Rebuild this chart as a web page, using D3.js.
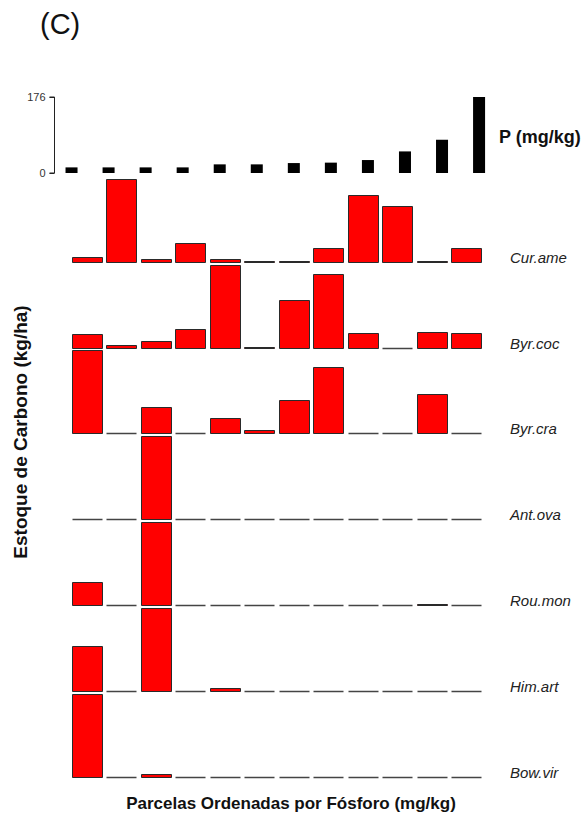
<!DOCTYPE html>
<html>
<head>
<meta charset="utf-8">
<script src="https://cdn.jsdelivr.net/npm/d3@7"></script>
<style>
  html, body { margin: 0; padding: 0; background: #fff; }
  svg { display: block; font-family: Arial, "Liberation Sans", sans-serif; }
</style>
</head>
<body>
<svg id="chart" width="585" height="815"></svg>
<script>
// Plots, ordered by soil phosphorus
const plots = d3.range(1, 13).map(String);

// Phosphorus per plot (mg/kg)
const phosphorus = [13, 13, 13, 13, 20, 20, 23, 24, 30, 50, 77, 176];
const pTicks = [0, 176];

// Carbon stock per species and plot (kg/ha, each species on its own scale)
const species = ["Cur.ame", "Byr.coc", "Byr.cra", "Ant.ova", "Rou.mon", "Him.art", "Bow.vir"];
const curAme = [5, 83, 3, 19, 3, 1, 1, 14, 67, 56, 1, 14];
const byrCoc = [14, 3, 7, 19, 83, 1, 48, 74, 15, 0, 16, 15];
const byrCra = [81, 0, 26, 0, 15, 3, 32, 65, 0, 0, 38, 0];
const antOva = [0, 0, 83, 0, 0, 0, 0, 0, 0, 0, 0, 0];
const rouMon = [23, 0, 82, 0, 0, 0, 0, 0, 0, 0, 1, 0];
const himArt = [45, 0, 82, 0, 3, 0, 0, 0, 0, 0, 0, 0];
const bowVir = [83, 0, 3, 0, 0, 0, 0, 0, 0, 0, 0, 0];
const carbon = [curAme, byrCoc, byrCra, antOva, rouMon, himArt, bowVir];

const svg = d3.select("#chart");

// Panel label
svg.append("text")
  .attr("x", 40).attr("y", 34)
  .attr("font-size", 29)
  .attr("fill", "#111")
  .text("(C)");

// ---- Phosphorus panel ----
const xP = d3.scaleBand().domain(plots).range([53, 497.6])
  .paddingInner(0.676).paddingOuter(0.338);
const yP = d3.scaleLinear().domain([0, 176]).range([173, 97]);

svg.append("g")
  .selectAll("rect")
  .data(phosphorus)
  .join("rect")
  .attr("x", (d, i) => xP(plots[i]))
  .attr("width", xP.bandwidth())
  .attr("y", d => yP(d))
  .attr("height", d => yP(0) - yP(d))
  .attr("fill", "#000");

const pAxis = svg.append("g")
  .attr("transform", "translate(54.5,0)")
  .call(d3.axisLeft(yP).tickValues(pTicks).tickSize(5).tickPadding(4).tickFormat(d3.format("d")));
pAxis.select(".domain").attr("stroke", "#222").attr("d", `M-5,${yP(176)}H0V${yP(0)}H-5`);
pAxis.selectAll(".tick line").attr("stroke", "#222");
pAxis.selectAll(".tick text").attr("font-size", 11).attr("fill", "#333")
  .attr("font-family", "Arial, 'Liberation Sans', sans-serif");

svg.append("text")
  .attr("x", 499).attr("y", 143)
  .attr("font-size", 18).attr("font-weight", "bold")
  .attr("fill", "#111")
  .text("P (mg/kg)");

// ---- Species panels ----
const x = d3.scaleBand().domain(plots).range([69.45, 483.45])
  .paddingInner(0.13).paddingOuter(0.065);
const base = d3.scalePoint().domain(species).range([261.7, 776.7]);
const barMax = 82.5;

species.forEach((sp, k) => {
  const vals = carbon[k];
  const y = d3.scaleLinear().domain([0, d3.max(vals)]).range([0, barMax]);
  const b = Math.round(base(sp)) + 0.5;
  const g = svg.append("g");
  g.selectAll("path")
    .data(vals)
    .join("path")
    .attr("d", (d, i) => {
      const x0 = Math.round(x(plots[i])) + 0.5;
      const w = Math.round(x.bandwidth());
      const h = Math.round(y(d));
      return `M${x0},${b}h${w}v${-h}h${-w}Z`;
    })
    .attr("fill", "#ff0000")
    .attr("stroke", d => d > 0 ? "#2a2a2a" : "#444")
    .attr("stroke-width", d => d > 0 ? 1 : 1.4);

  svg.append("text")
    .attr("x", 510).attr("y", b)
    .attr("font-size", 15).attr("font-style", "italic")
    .attr("fill", "#222")
    .text(sp);
});

// Axis titles
svg.append("text")
  .attr("x", 291).attr("y", 809)
  .attr("text-anchor", "middle")
  .attr("font-size", 17).attr("font-weight", "bold")
  .attr("fill", "#111")
  .text("Parcelas Ordenadas por Fósforo (mg/kg)");

svg.append("text")
  .attr("transform", "translate(27,432) rotate(-90)")
  .attr("text-anchor", "middle")
  .attr("font-size", 19).attr("font-weight", "bold")
  .attr("fill", "#111")
  .text("Estoque de Carbono (kg/ha)");
</script>
</body>
</html>
